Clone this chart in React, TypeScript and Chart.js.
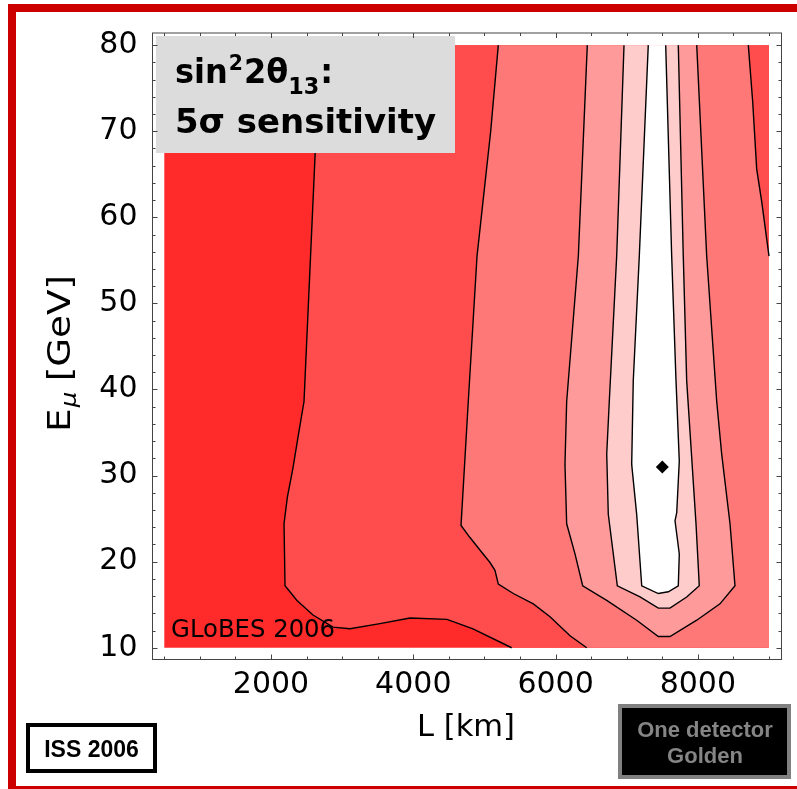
import React, { useEffect, useRef } from "react";
import { Chart, registerables } from "chart.js";
Chart.register(...registerables);

type Pt = [number, number];

// axes
const xTicks = [2000, 4000, 6000, 8000];
const yTicks = [10, 20, 30, 40, 50, 60, 70, 80];
const lRange: Pt = [500, 9000];
const eRange: Pt = [10, 80];
const xMinorStep = 500;
const yMinorStep = 2;

// contour lines [L km, E GeV]
const contour1: Pt[] = [
  [2690, 80], [2620, 67.3], [2464, 38.6], [2380, 34.5], [2309, 30.9], [2230, 27.5],
  [2183, 24.4], [2197, 17.2], [2365, 15.5], [2590, 13.8], [2872, 12.4], [3110, 12.2],
  [3532, 12.8], [3954, 13.45], [4474, 13.3], [4839, 12.2], [5383, 10],
];
const contour2: Pt[] = [
  [5195, 80], [5088, 70], [4896, 55.5], [4773, 38.6], [4671, 24.2], [4797, 22.8],
  [4962, 21.1], [5078, 19.9], [5148, 19.0], [5195, 17.4], [5406, 16.3], [5687, 15.1],
  [5922, 13.6], [6203, 11.4], [6438, 10],
];
const cornerContour: Pt[] = [
  [8709, 80], [8771, 73.4], [8827, 65.6], [8898, 61.8], [9000, 55.5],
];
const contour3: Pt[] = [
  [6446, 80], [6320, 55.5], [6156, 38.6], [6132, 31.3], [6156, 24.4], [6273, 20.9],
  [6381, 17.2], [6719, 15.5], [7140, 13.2], [7444, 11.3], [7608, 11.3], [7984, 13.2],
  [8311, 15.1], [8522, 17.2], [8452, 24.4], [8335, 32.5], [8265, 38.6], [8124, 55.5],
  [7984, 80],
];
const contour4: Pt[] = [
  [6962, 80], [6859, 55.5], [6755, 38.6], [6719, 32.5], [6741, 25.5], [6868, 17.2],
  [7187, 15.9], [7444, 14.6], [7608, 14.6], [7843, 15.9], [8020, 17.2], [7974, 24.4],
  [7843, 41.0], [7795, 55.5], [7725, 80],
];
const contour5: Pt[] = [
  [7303, 80], [7177, 55.5], [7092, 41.0], [7070, 31.3], [7140, 25.5], [7211, 17.2],
  [7444, 16.3], [7585, 16.5], [7725, 17.2], [7739, 20.9], [7679, 24.75], [7703, 25.7],
  [7739, 31.7], [7693, 41.0], [7632, 55.5], [7548, 80],
];
const bestFit: Pt[] = [[7500, 31]];
const levelColors = ["#ff2a2a", "#ff4d4d", "#ff7878", "#ff9a9a", "#ffcccc", "#ffffff"];

const toXY = (a: Pt[]) => a.map(([x, y]) => ({ x, y }));

const FONT = "'DejaVu Sans', sans-serif";
const FONT2 = "'Liberation Sans', Arial, sans-serif";

type Part = { text: string; font: string; dy?: number; gap?: number; w?: number };
function drawRich(ctx: CanvasRenderingContext2D, parts: Part[], x: number, y: number, targetW?: number) {
  let total = 0;
  for (const p of parts) {
    ctx.font = p.font;
    p.w = ctx.measureText(p.text).width;
    total += p.w + (p.gap || 0);
  }
  const s = targetW ? targetW / total : 1;
  ctx.save();
  ctx.translate(x, y);
  ctx.scale(s, 1);
  let cx = 0;
  for (const p of parts) {
    ctx.font = p.font;
    cx += p.gap || 0;
    ctx.fillText(p.text, cx, p.dy || 0);
    cx += p.w || 0;
  }
  ctx.restore();
}

const deco = {
  id: "deco",
  beforeDraw(chart: any) {
    const ctx: CanvasRenderingContext2D = chart.ctx;
    ctx.save();
    ctx.fillStyle = "#ffffff";
    ctx.fillRect(0, 0, chart.width, chart.height);
    ctx.fillStyle = "#cc0000";
    ctx.fillRect(8, 4, 789, 8);
    ctx.fillRect(8, 4, 8, 785);
    ctx.fillRect(8, 786, 789, 3);
    ctx.restore();
  },
  afterDatasetsDraw(chart: any) {
    const ctx: CanvasRenderingContext2D = chart.ctx;
    const xs = chart.scales.x;
    const ys = chart.scales.y;
    const a = chart.chartArea;
    ctx.save();
    // GLoBES label
    ctx.fillStyle = "#000";
    ctx.textBaseline = "alphabetic";
    ctx.textAlign = "left";
    drawRich(ctx, [{ text: "GLoBES 2006", font: `24px ${FONT}` }], xs.getPixelForValue(595), ys.getPixelForValue(11.25), 164);

    // title box
    ctx.fillStyle = "#dcdcdc";
    ctx.fillRect(156, 36, 299, 117);
    ctx.fillStyle = "#000";
    drawRich(ctx, [
      { text: "sin", font: `bold 33px ${FONT}` },
      { text: "2", font: `bold 21px ${FONT}`, dy: -13, gap: 1 },
      { text: "2θ", font: `bold 33px ${FONT}`, gap: 1 },
      { text: "13", font: `bold 23px ${FONT}`, dy: 11 },
      { text: ":", font: `bold 33px ${FONT}`, gap: 1 },
    ], 175, 83, 158);
    drawRich(ctx, [{ text: "5σ sensitivity", font: `bold 33px ${FONT}` }], 175, 133, 261);

    // frame
    ctx.strokeStyle = "#444";
    ctx.lineWidth = 1;
    ctx.strokeRect(a.left, a.top, a.right - a.left, a.bottom - a.top);
    ctx.beginPath();
    for (let v = lRange[0]; v <= lRange[1] + 1e-6; v += xMinorStep) {
      const px = Math.round(xs.getPixelForValue(v)) + 0.5;
      const len = v % 2000 === 0 ? 5 : 3;
      ctx.moveTo(px, a.bottom); ctx.lineTo(px, a.bottom - len);
      ctx.moveTo(px, a.top); ctx.lineTo(px, a.top + len);
    }
    for (let v = eRange[0]; v <= eRange[1] + 1e-6; v += yMinorStep) {
      const py = Math.round(ys.getPixelForValue(v)) + 0.5;
      const len = v % 10 === 0 ? 5 : 3;
      ctx.moveTo(a.left, py); ctx.lineTo(a.left + len, py);
      ctx.moveTo(a.right, py); ctx.lineTo(a.right - len, py);
    }
    ctx.stroke();

    // axis titles
    ctx.fillStyle = "#000";
    drawRich(ctx, [{ text: "L [km]", font: `30px ${FONT}` }], 417, 736, 98);
    ctx.save();
    ctx.translate(70, 432);
    ctx.rotate(-Math.PI / 2);
    drawRich(ctx, [
      { text: "E", font: `32px ${FONT}` },
      { text: "μ", font: `italic 21px ${FONT}`, dy: 6, gap: 1 },
      { text: "[GeV]", font: `32px ${FONT}`, gap: 9 },
    ], 0, 0, 157);
    ctx.restore();

    // ISS box
    ctx.strokeStyle = "#000";
    ctx.lineWidth = 4;
    ctx.strokeRect(28, 725, 127, 46);
    ctx.fillStyle = "#000";
    ctx.font = `bold 23px ${FONT2}`;
    ctx.textAlign = "center";
    ctx.textBaseline = "alphabetic";
    ctx.fillText("ISS 2006", 91.5, 757);

    // One detector box
    ctx.fillStyle = "#808080";
    ctx.fillRect(618, 704, 173, 75);
    ctx.fillStyle = "#000";
    ctx.fillRect(622, 708, 165, 67);
    ctx.fillStyle = "#858585";
    ctx.font = `bold 22px ${FONT2}`;
    ctx.fillText("One detector", 705, 737);
    ctx.fillText("Golden", 705, 763);
    ctx.restore();
  },
};

export default function App() {
  const ref = useRef<HTMLCanvasElement>(null);
  useEffect(() => {
    if (!ref.current) return;
    const [L0, L1] = lRange;
    const [E0, E1] = eRange;
    const bg: Pt[] = [[L0, E0], [L1, E0], [L1, E1], [L0, E1]];
    const poly1: Pt[] = [...contour1, [L1, E0], [L1, E1]];
    const poly2: Pt[] = [...contour2, [L1, E0], ...[...cornerContour].reverse()];
    const polys = [bg, poly1, poly2, contour3, contour4, contour5];
    const fills = polys.map((p, i) => ({
      data: toXY(p),
      showLine: true,
      fill: "shape",
      backgroundColor: levelColors[i],
      borderColor: "rgba(0,0,0,0)",
      borderWidth: 0,
      pointRadius: 0,
      tension: 0,
      order: 20 - i,
    }));
    const lines = [contour1, contour2, cornerContour, contour3, contour4, contour5].map((p) => ({
      data: toXY(p),
      showLine: true,
      fill: false,
      borderColor: "#000",
      borderWidth: 1.4,
      pointRadius: 0,
      tension: 0,
      order: 5,
    }));
    const pxPerL = 0.071141;
    const pxPerE = 8.6429;
    const xMin = L0 - (164.3 - 152.5) / pxPerL;
    const xMax = xMin + 629 / pxPerL;
    const yMax = E1 + (42.7 - 30.5) / pxPerE;
    const yMin = yMax - 629 / pxPerE;
    const chart = new Chart(ref.current, {
      type: "scatter",
      data: {
        datasets: [
          ...fills,
          ...lines,
          {
            data: toXY(bestFit),
            pointStyle: "rectRot",
            pointRadius: 6.5,
            backgroundColor: "#000",
            borderColor: "#000",
            borderWidth: 0,
            order: 1,
          },
        ] as any,
      },
      options: {
        responsive: false,
        animation: false,
        devicePixelRatio: 1,
        events: [],
        layout: { padding: { top: 30.5, right: 15.5, left: 0, bottom: 0 } },
        plugins: { legend: { display: false }, tooltip: { enabled: false } },
        scales: {
          x: {
            type: "linear",
            min: xMin,
            max: xMax,
            grid: { display: false, drawTicks: false },
            border: { display: false },
            afterBuildTicks: (s: any) => { s.ticks = xTicks.map((v) => ({ value: v })); },
            afterFit: (s: any) => { s.height = 129.5; },
            ticks: {
              font: { family: "'DejaVu Sans'", size: 30 },
              color: "#000",
              padding: 8,
              maxRotation: 0,
              autoSkip: false,
              callback: (v: any) => String(v),
            },
          },
          y: {
            type: "linear",
            min: yMin,
            max: yMax,
            grid: { display: false, drawTicks: false },
            border: { display: false },
            afterBuildTicks: (s: any) => { s.ticks = yTicks.map((v) => ({ value: v })); },
            afterFit: (s: any) => { s.width = 152.5; },
            ticks: {
              font: { family: "'DejaVu Sans'", size: 30 },
              color: "#000",
              padding: 15,
              autoSkip: false,
              callback: (v: any) => String(v),
            },
          },
        },
      } as any,
      plugins: [deco],
    });
    return () => chart.destroy();
  }, []);
  return (
    <div style={{ position: "fixed", left: 0, top: 0, width: 797, height: 789 }}>
      <canvas ref={ref} width={797} height={789} style={{ display: "block" }} />
    </div>
  );
}
